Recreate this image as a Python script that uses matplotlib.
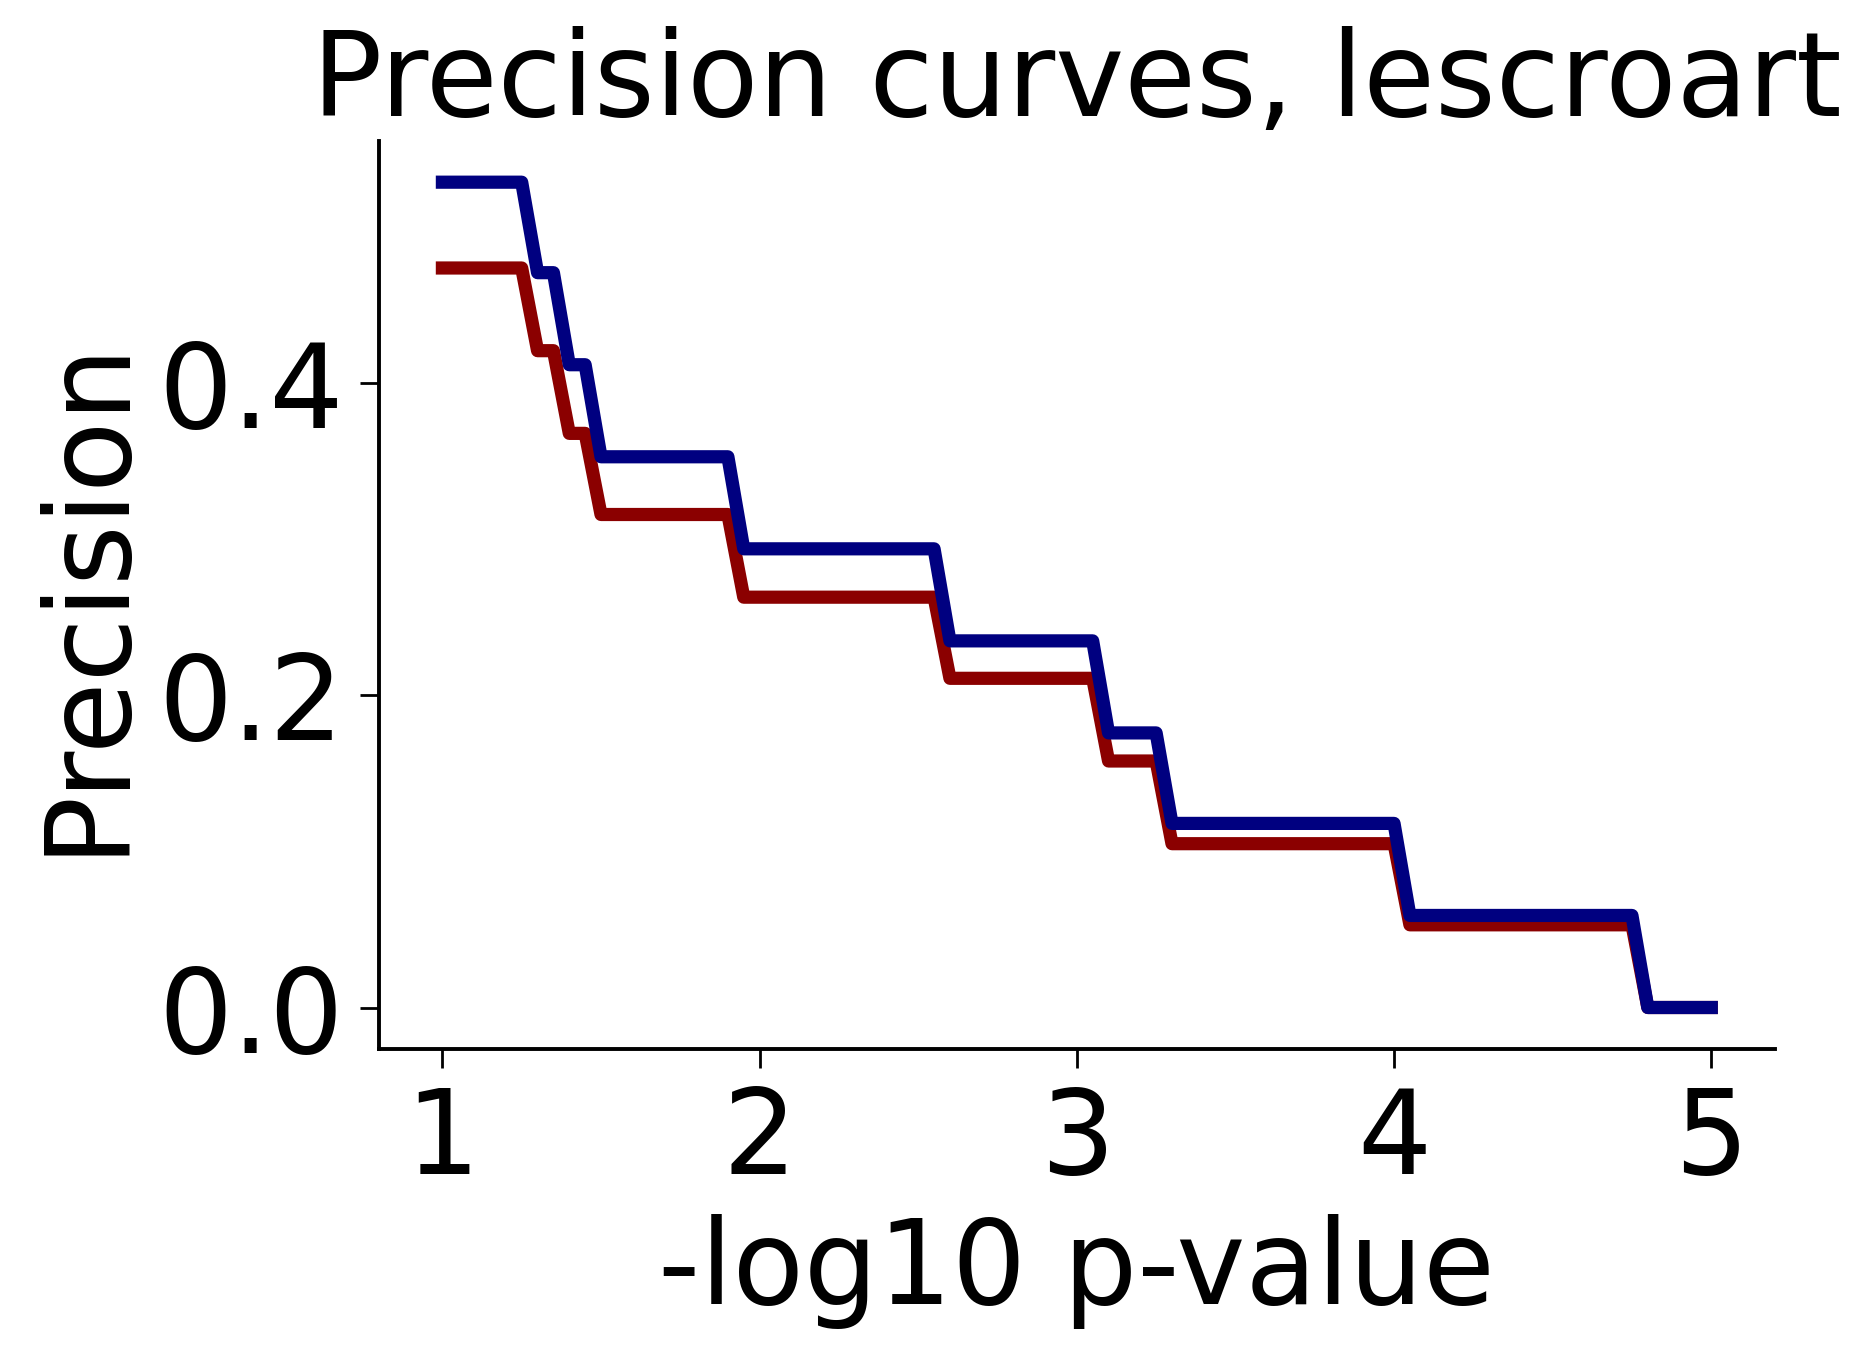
import matplotlib
matplotlib.use("Agg")
import matplotlib.pyplot as plt

# Threshold (-log10 p-value) vertices and precision values
x_thresh = [1.00, 1.25, 1.30, 1.35, 1.40, 1.45, 1.50, 1.90, 1.95, 2.55, 2.60,
            3.05, 3.10, 3.25, 3.30, 4.00, 4.05, 4.75, 4.80, 5.00]
prec_blue = [0.529, 0.529, 0.471, 0.471, 0.412, 0.412, 0.353, 0.353, 0.294, 0.294,
             0.235, 0.235, 0.176, 0.176, 0.118, 0.118, 0.059, 0.059, 0.0, 0.0]
prec_red = [0.474, 0.474, 0.421, 0.421, 0.368, 0.368, 0.316, 0.316, 0.263, 0.263,
            0.211, 0.211, 0.158, 0.158, 0.105, 0.105, 0.053, 0.053, 0.0, 0.0]
xticks = [1, 2, 3, 4, 5]
yticks = [0.0, 0.2, 0.4]

plt.rcParams['font.family'] = ['DejaVu Sans']
FS = 84

fig = plt.figure(figsize=(18.76, 13.55), dpi=100)
ax = fig.add_axes([0.202, 0.226, 0.744, 0.670])

ax.plot(x_thresh, prec_red, color='#8b0000', lw=9.5)
ax.plot(x_thresh, prec_blue, color='#000080', lw=9.5)

ax.set_xticks(xticks)
ax.set_xticklabels([str(t) for t in xticks])
ax.set_yticks(yticks)
ax.set_yticklabels([f"{t:.1f}" for t in yticks])

ax.spines['top'].set_visible(False)
ax.spines['right'].set_visible(False)
for s in ['left', 'bottom']:
    ax.spines[s].set_linewidth(2.8)
ax.tick_params(axis='both', labelsize=FS, length=13.5, width=2.0, pad=12)

ax.set_xlabel('-log10 p-value', fontsize=FS, labelpad=11)
ax.set_ylabel('Precision', fontsize=FS, labelpad=10)
ax.set_title('Precision curves, lescroart', fontsize=FS, pad=12)

fig.savefig('out.png', dpi=100)
